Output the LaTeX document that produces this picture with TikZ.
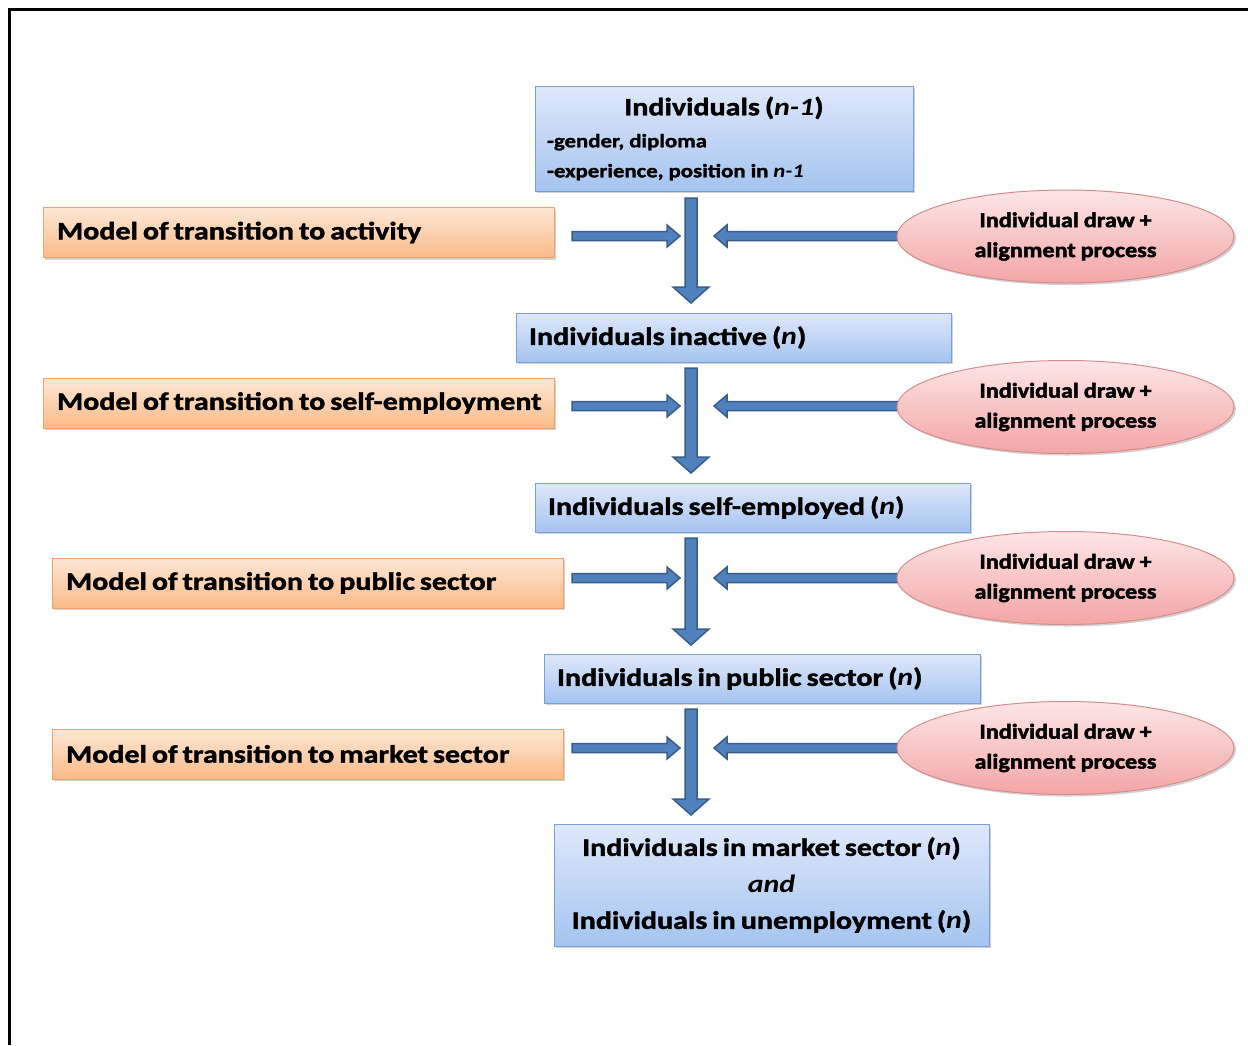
\documentclass[tikz,border=0pt]{standalone}
\usepackage{fontspec}
\setmainfont{Carlito}[FakeStretch=1.2,BoldFeatures={FakeBold=1.6}]
\newfontfamily\ellfont{Carlito}[FakeStretch=1.15,BoldFeatures={FakeBold=2.2}]
\usetikzlibrary{calc,shapes.geometric,shadows}
\definecolor{arrfill}{RGB}{79,129,189}
\definecolor{arrdraw}{RGB}{56,93,138}
\definecolor{bluetop}{RGB}{222,232,250}
\definecolor{bluebot}{RGB}{165,196,240}
\definecolor{blueline}{RGB}{120,160,215}
\definecolor{ortop}{RGB}{253,232,214}
\definecolor{orbot}{RGB}{250,186,136}
\definecolor{orline}{RGB}{245,160,100}
\definecolor{pktop}{RGB}{253,230,230}
\definecolor{pkbot}{RGB}{243,165,165}
\definecolor{pkline}{RGB}{215,140,140}
\newcommand\tightsp{\spaceskip=5pt plus 1pt minus 1pt\relax}
\tikzset{
  shad/.style={drop shadow={shadow xshift=2pt,shadow yshift=-2pt,opacity=0.35,fill=gray}},
  bluebox/.style={draw=blueline,line width=1pt,top color=bluetop,bottom color=bluebot,shad,
     inner sep=0pt,font=\fontsize{25}{30}\selectfont\bfseries\tightsp},
  orbox/.style={draw=orline,line width=1pt,top color=ortop,bottom color=orbot,shad,
     minimum width=511pt,minimum height=50pt,text width=483pt,align=left,inner xsep=14pt,inner ysep=0pt,
     font=\fontsize{25}{30}\selectfont\bfseries\tightsp},
  ellnode/.style={ellipse,draw=pkline,line width=1pt,top color=pktop,bottom color=pkbot,shad,
     minimum width=337pt,minimum height=93pt,inner sep=0pt,align=center,
     font=\ellfont\bfseries\fontsize{21}{30}\selectfont\tightsp},
  arrowsty/.style={fill=arrfill,draw=arrdraw,line width=1.5pt,line join=miter}
}
\newcommand\fatarr[5]{%
  \coordinate (fabase) at ($(#2)!#5!(#1)$);
  \draw[arrowsty] ($(#1)!#3!90:(#2)$) -- ($(fabase)!#3!-90:(#1)$) -- ($(fabase)!#4!-90:(#1)$)
    -- (#2) -- ($(fabase)!#4!90:(#1)$) -- ($(fabase)!#3!90:(#1)$) -- ($(#1)!#3!-90:(#2)$) -- cycle;
}
\begin{document}
\begin{tikzpicture}[x=1pt,y=-1pt]
\useasboundingbox (0,0) rectangle (1248,1045);
\fill[white] (0,0) rectangle (1248,1045);
\draw[line width=3.5pt] (9.5,1045) -- (9.5,9.5) -- (1248,9.5);

% blue boxes
\node[bluebox,minimum width=378pt,minimum height=105pt,text width=354pt,align=left] (b1) at (724,138.5)
  {\tightsp\makebox[354pt][c]{Individuals (\textit{n-1})}\\[3pt]
   {\fontsize{19}{29}\selectfont\tightsp -gender, diploma\\ -experience, position in \textit{n-1}}};
\node[bluebox,minimum width=435pt,minimum height=49pt,text width=409pt,align=left] (b2) at (733.5,337.5)
  {\tightsp\mbox{Individuals inactive (\textit{n})}};
\node[bluebox,minimum width=435pt,minimum height=49pt,text width=409pt,align=left] (b3) at (752.5,507.5)
  {\tightsp\mbox{Individuals self-employed (\textit{n})}};
\node[bluebox,minimum width=436pt,minimum height=49pt,text width=410pt,align=left] (b4) at (762,678.5)
  {\tightsp\mbox{Individuals in public sector (\textit{n})}};
\node[bluebox,minimum width=435pt,minimum height=122pt,align=center,font=\fontsize{25}{36.5}\selectfont\bfseries\tightsp] (b5) at (771.5,885)
  {Individuals in market sector (\textit{n})\\ \textit{and}\\ Individuals in unemployment (\textit{n})};

% orange boxes
\node[orbox] (o1) at (298.5,232.5) {\tightsp\mbox{Model of transition to activity}};
\node[orbox] (o2) at (298.5,403) {\tightsp\mbox{Model of transition to self-employment}};
\node[orbox] (o3) at (307.5,583) {\tightsp\mbox{Model of transition to public sector}};
\node[orbox] (o4) at (307.5,754) {\tightsp\mbox{Model of transition to market sector}};

% arrow end coordinates
\coordinate (v1s) at (691,198); \coordinate (v1e) at (691,303);
\coordinate (v2s) at (691,368); \coordinate (v2e) at (691,473);
\coordinate (v3s) at (691,538); \coordinate (v3e) at (691,645);
\coordinate (v4s) at (691,709); \coordinate (v4e) at (691,815);
\coordinate (l1s) at (572,236); \coordinate (l1e) at (680,236);
\coordinate (l2s) at (572,406); \coordinate (l2e) at (680,406);
\coordinate (l3s) at (572,578); \coordinate (l3e) at (680,578);
\coordinate (l4s) at (572,748); \coordinate (l4e) at (680,748);
\coordinate (r1s) at (905,236); \coordinate (r1e) at (714,236);
\coordinate (r2s) at (905,406); \coordinate (r2e) at (714,406);
\coordinate (r3s) at (905,578); \coordinate (r3e) at (714,578);
\coordinate (r4s) at (905,748); \coordinate (r4e) at (714,748);

\foreach \i in {1,2,3,4}{
  \fatarr{v\i s}{v\i e}{6pt}{18pt}{16pt}
  \fatarr{l\i s}{l\i e}{4.5pt}{11pt}{13pt}
  \fatarr{r\i s}{r\i e}{4.5pt}{11pt}{13pt}
}

% ellipses
\node[ellnode] (e1) at (1065.5,236.5) {Individual draw +\\alignment process};
\node[ellnode] (e2) at (1065.5,407) {Individual draw +\\alignment process};
\node[ellnode] (e3) at (1065.5,578) {Individual draw +\\alignment process};
\node[ellnode] (e4) at (1065.5,748) {Individual draw +\\alignment process};
\end{tikzpicture}
\end{document}
